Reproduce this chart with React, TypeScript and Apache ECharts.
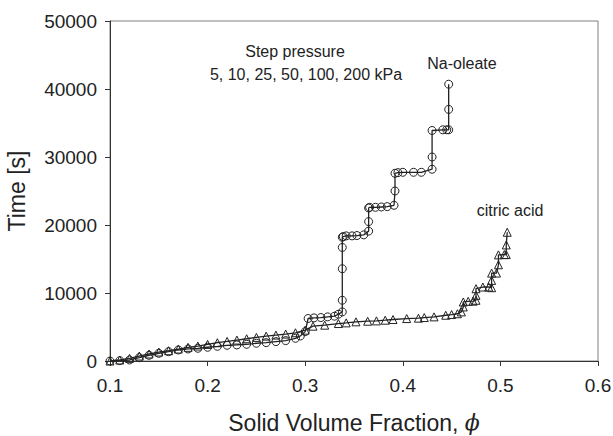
import React, { useEffect, useRef } from "react";
import * as echarts from "echarts";

const naX = [0.1, 0.11, 0.12, 0.13, 0.14, 0.15, 0.16, 0.17, 0.18, 0.19, 0.2, 0.21, 0.22, 0.23, 0.24, 0.25, 0.26, 0.27, 0.28, 0.29, 0.295, 0.3, 0.303, 0.309, 0.316, 0.323, 0.33, 0.334, 0.338, 0.338, 0.338, 0.338, 0.338, 0.339, 0.342, 0.348, 0.353, 0.36, 0.365, 0.365, 0.365, 0.366, 0.372, 0.378, 0.384, 0.391, 0.392, 0.392, 0.395, 0.4, 0.411, 0.419, 0.43, 0.43, 0.43, 0.441, 0.445, 0.447, 0.447, 0.447];
const naY = [0, 50, 150, 490, 840, 1130, 1370, 1620, 1770, 1870, 2020, 2160, 2310, 2360, 2460, 2610, 2700, 2850, 3000, 3340, 3680, 4320, 6250, 6340, 6390, 6490, 6590, 6880, 7220, 8930, 13570, 16700, 18200, 18300, 18400, 18400, 18450, 18550, 19100, 20500, 22500, 22600, 22600, 22650, 22700, 22900, 25000, 27600, 27700, 27750, 27750, 27750, 28200, 30000, 33900, 34000, 34000, 34000, 37000, 40700];

const caX = [0.1, 0.11, 0.12, 0.13, 0.14, 0.15, 0.16, 0.17, 0.18, 0.19, 0.2, 0.21, 0.22, 0.23, 0.24, 0.25, 0.26, 0.27, 0.28, 0.29, 0.3, 0.308, 0.32, 0.334, 0.342, 0.352, 0.364, 0.373, 0.382, 0.39, 0.404, 0.416, 0.422, 0.432, 0.444, 0.45, 0.456, 0.46, 0.462, 0.462, 0.467, 0.472, 0.475, 0.475, 0.475, 0.482, 0.488, 0.491, 0.491, 0.491, 0.496, 0.498, 0.498, 0.504, 0.506, 0.506, 0.507];
const caY = [0, 150, 390, 730, 1030, 1320, 1510, 1760, 2010, 2200, 2440, 2690, 2880, 3080, 3270, 3470, 3660, 3810, 3960, 4150, 4540, 5120, 5270, 5510, 5610, 5760, 5850, 5900, 6000, 6100, 6240, 6300, 6390, 6490, 6730, 6830, 6950, 7220, 7950, 8680, 8780, 8800, 8930, 9660, 10630, 10880, 10880, 10780, 11850, 12930, 12930, 14150, 15610, 15650, 15650, 17070, 18930];

const xTicks = [0.1, 0.2, 0.3, 0.4, 0.5, 0.6];
const yTicks = [0, 10000, 20000, 30000, 40000, 50000];

const FONT = "Liberation Sans";
const TXT = "#222";

export default function App() {
  const ref = useRef<HTMLDivElement>(null);
  useEffect(() => {
    if (!ref.current) return;
    const chart = echarts.init(ref.current, undefined, { renderer: "svg" });
    const na = naX.map((x, i) => [x, naY[i]]);
    const ca = caX.map((x, i) => [x, caY[i]]);
    chart.setOption({
      animation: false,
      backgroundColor: "#fff",
      textStyle: { fontFamily: FONT },
      grid: {
        left: 110,
        top: 21,
        width: 488,
        height: 340,
        containLabel: false,
        outerBoundsMode: "none",
        show: true,
        borderColor: "#808080",
        borderWidth: 1,
      },
      xAxis: {
        type: "value",
        min: xTicks[0],
        max: xTicks[xTicks.length - 1],
        interval: 0.1,
        name: "{a|Solid Volume Fraction, }{b|ϕ}",
        nameLocation: "middle",
        nameGap: 50,
        nameTextStyle: {
          rich: {
            a: { fontFamily: FONT, fontSize: 23, color: TXT },
            b: { fontFamily: "DejaVu Serif", fontStyle: "italic", fontSize: 22, color: TXT },
          },
        },
        axisLine: { show: true, onZero: false, lineStyle: { color: "#333", width: 1 } },
        axisTick: { show: true, inside: false, length: 5, lineStyle: { color: "#333" } },
        axisLabel: {
          fontFamily: FONT,
          fontSize: 19,
          color: TXT,
          margin: 15,
          formatter: (v: number) => String(Math.round(v * 10) / 10),
        },
        splitLine: { show: false },
      },
      yAxis: {
        type: "value",
        min: yTicks[0],
        max: yTicks[yTicks.length - 1],
        interval: 10000,
        name: "Time [s]",
        nameLocation: "middle",
        nameGap: 82,
        nameTextStyle: { fontFamily: FONT, fontSize: 23, color: TXT },
        axisLine: { show: true, onZero: false, lineStyle: { color: "#333", width: 1 } },
        axisTick: { show: true, inside: false, length: 5, lineStyle: { color: "#333" } },
        axisLabel: {
          fontFamily: FONT,
          fontSize: 19,
          color: TXT,
          margin: 13,
          formatter: (v: number) => String(v),
        },
        splitLine: { show: false },
      },
      series: [
        {
          name: "Na-oleate",
          type: "line",
          data: na,
          symbol: "circle",
          symbolSize: 8,
          showAllSymbol: true,
          lineStyle: { color: "#222", width: 1.3 },
          itemStyle: { color: "transparent", borderColor: "#222", borderWidth: 1 },
          z: 3,
        },
        {
          name: "citric acid",
          type: "line",
          data: ca,
          symbol: "triangle",
          symbolSize: 8,
          showAllSymbol: true,
          lineStyle: { color: "#222", width: 1.3 },
          itemStyle: { color: "transparent", borderColor: "#222", borderWidth: 1 },
          z: 2,
        },
      ],
      graphic: [
        {
          type: "text",
          x: 295,
          y: 51,
          style: { text: "Step pressure", fontFamily: FONT, fontSize: 16, fill: TXT, align: "center", verticalAlign: "middle" },
        },
        {
          type: "text",
          x: 306,
          y: 74,
          style: { text: "5, 10, 25, 50, 100, 200 kPa", fontFamily: FONT, fontSize: 16, fill: TXT, align: "center", verticalAlign: "middle" },
        },
        {
          type: "text",
          x: 462,
          y: 63,
          style: { text: "Na-oleate", fontFamily: FONT, fontSize: 16, fill: TXT, align: "center", verticalAlign: "middle" },
        },
        {
          type: "text",
          x: 510,
          y: 210,
          style: { text: "citric acid", fontFamily: FONT, fontSize: 16, fill: TXT, align: "center", verticalAlign: "middle" },
        },
      ],
    });
    return () => chart.dispose();
  }, []);
  return <div ref={ref} style={{ width: 613, height: 436, position: "absolute", left: 0, top: 0 }} />;
}
